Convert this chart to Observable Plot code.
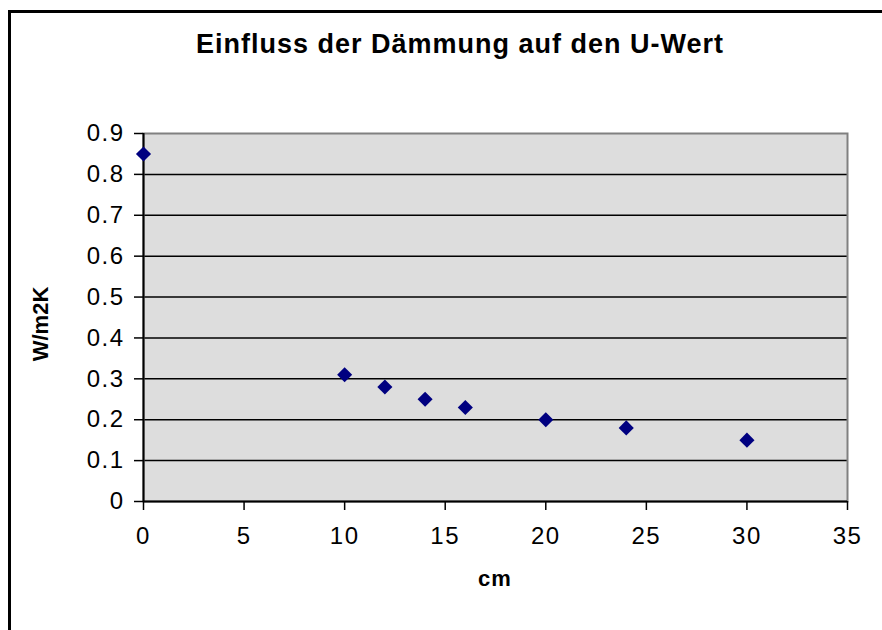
<!DOCTYPE html>
<html>
<head>
<meta charset="utf-8">
<script src="https://cdn.jsdelivr.net/npm/d3@7"></script>
<script src="https://cdn.jsdelivr.net/npm/@observablehq/plot@0.6"></script>
<style>
  html, body { margin: 0; padding: 0; background: #fff; }
  #wrap { position: relative; width: 882px; height: 630px; overflow: hidden; font-family: "Liberation Sans", Arial, sans-serif; }
  #border { position: absolute; left: 8px; top: 10px; width: 1000px; height: 1000px; border-left: 3px solid #000; border-top: 3px solid #000; box-sizing: border-box; }
  #title { position: absolute; left: 0; width: 920px; top: 29px; text-align: center; font-weight: bold; font-size: 27px; letter-spacing: 1px; color: #000; white-space: nowrap; }
  #ylabel { position: absolute; left: 41px; top: 324px; transform: translate(-50%, -50%) rotate(-90deg); font-weight: bold; font-size: 22px; letter-spacing: 0px; white-space: nowrap; }
  #xlabel { position: absolute; left: 495px; top: 566px; transform: translateX(-50%); font-weight: bold; font-size: 22px; letter-spacing: 1px; white-space: nowrap; }
  #chart { position: absolute; left: 0; top: 0; }
  #chart svg text { letter-spacing: 1.5px; font-size: 24px; }
</style>
</head>
<body>
<div id="wrap">
  <div id="chart"></div>
  <div id="border"></div>
  <div id="title">Einfluss der Dämmung auf den U-Wert</div>
  <div id="ylabel">W/m2K</div>
  <div id="xlabel">cm</div>
</div>
<script>
const thickness = [0, 10, 12, 14, 16, 20, 24, 30];
const uValues = [0.85, 0.31, 0.28, 0.25, 0.23, 0.20, 0.18, 0.15];
const xTicks = [0, 5, 10, 15, 20, 25, 30, 35];
const yTicks = [0, 0.1, 0.2, 0.3, 0.4, 0.5, 0.6, 0.7, 0.8, 0.9];

const data = thickness.map((t, i) => ({cm: t, u: uValues[i]}));

const chart = Plot.plot({
  width: 882,
  height: 630,
  marginLeft: 143,
  marginRight: 35,
  marginTop: 133,
  marginBottom: 129,
  style: {fontFamily: "'Liberation Sans', Arial, sans-serif", fontSize: "24px", color: "#000", background: "transparent"},
  x: {domain: [0, 35]},
  y: {domain: [0, 0.9]},
  marks: [
    Plot.frame({fill: "#DDDDDD", stroke: null}),
    Plot.ruleY(yTicks.filter(d => d > 0 && d < 0.9), {stroke: "#000", strokeWidth: 1.5}),
    Plot.frame({stroke: "#808080", strokeWidth: 2}),
    Plot.axisY({ticks: yTicks, tickFormat: d => String(+d.toFixed(1)), tickSize: 9, tickPadding: 10, label: null, fontSize: 24, stroke: "#000", strokeWidth: 1.5}),
    Plot.axisX({ticks: xTicks, tickFormat: d => String(d), tickSize: 9, tickPadding: 16, label: null, fontSize: 24, stroke: "#000", strokeWidth: 1.5}),
    Plot.ruleX([0], {stroke: "#000", strokeWidth: 2}),
    Plot.ruleY([0], {stroke: "#000", strokeWidth: 2}),
    Plot.dot(data, {x: "cm", y: "u", symbol: "diamond2", r: 6.8, fill: "#000080", stroke: null})
  ]
});
document.getElementById("chart").appendChild(chart);
</script>
</body>
</html>
